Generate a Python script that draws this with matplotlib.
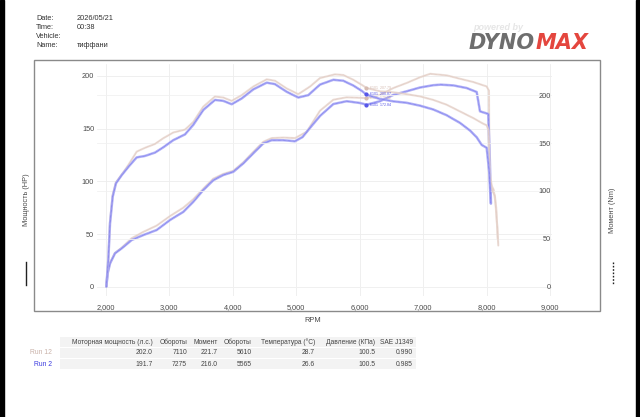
import numpy as np
import matplotlib
matplotlib.use("Agg")
import matplotlib.pyplot as plt
from matplotlib.lines import Line2D
from matplotlib.patches import Rectangle
from matplotlib.ticker import FuncFormatter
from matplotlib.transforms import Bbox, TransformedBbox

plt.rcParams["font.family"] = ["Liberation Sans", "DejaVu Sans"]

W, H = 640, 417
TAN, TAN_CORE = "#ead9d2", "#d6bcb2"
BLUE, BLUE_CORE = "#a3a3f5", "#5656e8"
TXT = "#4a4a4a"

# ---- curves -----------------------------------------------------------------
rpm_tq12 = [2010, 2041, 2068, 2110, 2162, 2252, 2356, 2488, 2619, 2776, 2907, 3065, 3249, 3380,
            3537, 3721, 3852, 3984, 4142, 4325, 4536, 4666, 4850, 5033, 5218, 5375, 5610, 5742,
            5900, 6032, 6110, 6320, 6530, 6740, 6950, 7160, 7370, 7580, 7790, 7950, 8000, 8030,
            8050, 8090, 8130, 8170, 8183]
tq12 = [0, 29, 68, 96, 109, 117, 127, 141, 145, 149, 155, 161, 164, 172, 188, 198.5, 197.5, 194,
        200, 209, 216.5, 215, 207, 201, 209, 217.8, 221.7, 221, 216, 210.8, 207.4, 204, 203, 201,
        198.7, 195, 190, 183, 176, 170, 168.5, 163, 120, 100, 95, 60, 43]

rpm_pw12 = [2010, 2031, 2068, 2146, 2252, 2409, 2592, 2803, 3013, 3222, 3380, 3537, 3694, 3852,
            4010, 4167, 4325, 4482, 4614, 4797, 4981, 5166, 5375, 5585, 5795, 6110, 6320, 6530,
            6740, 6950, 7110, 7372, 7580, 7790, 8000, 8036, 8045, 8110, 8150, 8175]
pw12 = [0, 13, 22.5, 32, 37, 46, 52, 58, 67, 75, 83, 93, 102.5, 107, 110, 118, 128, 137.5, 141,
        141.5, 141, 147, 167, 177.4, 179.7, 179, 182, 188.5, 193.3, 198.7, 202.0, 200.5, 197.3,
        194.2, 190, 186, 100, 92, 75, 45]

rpm_tq2 = [2010, 2041, 2068, 2110, 2162, 2252, 2356, 2488, 2619, 2776, 2907, 3065, 3249, 3380,
           3537, 3721, 3852, 3984, 4142, 4325, 4536, 4666, 4850, 5033, 5191, 5375, 5585, 5742,
           5900, 6032, 6110, 6320, 6530, 6740, 6950, 7160, 7370, 7580, 7738, 7843, 7922, 8000,
           8040, 8065]
tq2 = [0, 28, 66, 94, 108, 116.5, 125, 135, 136.5, 140, 145.5, 153, 159, 169, 184.5, 195, 194,
       190.5, 196.5, 206, 213, 211.5, 203.5, 197.5, 200, 211, 216, 215, 210, 204.5, 200.4, 196,
       193.5, 192, 189, 185, 179, 171, 163, 156, 148, 145, 120, 87]

rpm_pw2 = [2010, 2031, 2068, 2146, 2252, 2409, 2592, 2803, 3013, 3222, 3380, 3537, 3694, 3852,
           4010, 4167, 4325, 4482, 4614, 4797, 4981, 5100, 5250, 5375, 5585, 5795, 6005, 6110,
           6320, 6530, 6740, 6950, 7160, 7275, 7475, 7685, 7843, 7895, 8025, 8050, 8068]
pw2 = [0, 12.7, 22, 31.7, 36.4, 44.3, 49, 53.8, 63.3, 71, 80.6, 91.7, 101, 106, 109, 117, 126.6,
       136, 139, 139, 138, 142, 153, 162, 173.3, 176, 174.3, 172.7, 176, 182, 185.4, 189, 191.2,
       191.7, 191, 188.5, 184.7, 166.4, 163.9, 120, 79]

cursor_rpm = 6101

# ---- summary table ------------------------------------------------------------
col_heads = ["Моторная мощность (л.с.)", "Обороты", "Момент", "Обороты",
             "Температура (°C)", "Давление (КПа)", "SAE J1349"]
run_names = ["Run 12", "Run 2"]
run_rows = [["202.0", "7110", "221.7", "5610", "28.7", "100.5", "0.990"],
            ["191.7", "7275", "216.0", "5565", "26.6", "100.5", "0.985"]]

header = [("Date:", "2026/05/21"), ("Time:", "00:38"), ("Vehicle:", ""), ("Name:", "тиффани")]

# ------------------------------------------------------------------------------
fig = plt.figure(figsize=(W / 100, H / 100), dpi=100)
fx = lambda px: px / W
fy = lambda py: 1 - py / H

# black phone-screenshot edges and grey chart frame
fig.patches.append(Rectangle((0, 0), fx(4), 1, transform=fig.transFigure, color="black"))
fig.patches.append(Rectangle((fx(636), 0), fx(4), 1, transform=fig.transFigure, color="black"))
fig.patches.append(Rectangle((fx(34), fy(311)), fx(600 - 34), fy(60) - fy(311),
                             transform=fig.transFigure, fill=False, ec="#8a8a8a", lw=1.0))

ax = fig.add_axes([fx(97), fy(296), fx(552 - 97), fy(64) - fy(296)])
ax2 = ax.twinx()
for a in (ax, ax2):
    for s in a.spines.values():
        s.set_visible(False)
ax.set_xlim(1863, 9029)
ax.set_ylim(-8.8, 211.3)
ax2.set_ylim(-9.7, 232.5)
ax.set_xticks(np.arange(2000, 9001, 1000))
ax.set_yticks(np.arange(0, 201, 50))
ax2.set_yticks(np.arange(0, 201, 50))
ax.xaxis.set_major_formatter(FuncFormatter(lambda v, p: f"{v:,.0f}"))
ax.grid(True, color="#ededed", lw=0.6)
ax2.grid(True, axis="y", color="#f1f1f1", lw=0.6)
ax.set_axisbelow(True)
ax.tick_params(length=0, labelsize=5.3, labelcolor=TXT, pad=2)
ax.tick_params(axis="x", pad=6)
ax2.tick_params(length=0, labelsize=5.3, labelcolor=TXT, pad=-1)
for tl in ax2.get_yticklabels():
    tl.set_ha("right")

def draw(a, x, y, wide, core, lw):
    a.plot(x, y, color=wide, lw=lw, alpha=0.85, solid_capstyle="round")
    a.plot(x, y, color=core, lw=0.45, ls=(0, (1, 1)), alpha=0.9)

draw(ax, rpm_pw12, pw12, TAN, TAN_CORE, 1.5)
draw(ax2, rpm_tq12, tq12, TAN, TAN_CORE, 1.5)
draw(ax, rpm_pw2, pw2, BLUE, BLUE_CORE, 1.8)
draw(ax2, rpm_tq2, tq2, BLUE, BLUE_CORE, 1.8)

# cursor read-outs
for a, x, y, c in [(ax2, rpm_tq12, tq12, TAN_CORE), (ax2, rpm_tq2, tq2, BLUE_CORE),
                   (ax, rpm_pw12, pw12, TAN_CORE), (ax, rpm_pw2, pw2, BLUE_CORE)]:
    v = np.interp(cursor_rpm, x, y)
    a.plot([cursor_rpm], [v], "o", ms=2, color=c)
    a.text(cursor_rpm + 60, v, f"{cursor_rpm}  {v:.2f}", fontsize=2.6, color=c, va="center")

# clip the 9,000 label like in the reference
fig.canvas.draw()
clip = TransformedBbox(Bbox([[0, 0], [fx(560), 1]]), fig.transFigure)
for tl in ax.get_xticklabels():
    tl.set_clip_box(clip)
    tl.set_clip_on(True)

fig.text(fx(313), fy(320), "RPM", fontsize=5.3, color=TXT, ha="center", va="center")
fig.text(fx(26), fy(200), "Мощность (HP)", fontsize=5.3, color=TXT, rotation=90,
         ha="center", va="center")
fig.text(fx(612), fy(210), "Момент (Nm)", fontsize=5.3, color=TXT, rotation=90,
         ha="center", va="center")
fig.lines.append(Line2D([fx(26), fx(26)], [fy(262), fy(285)], transform=fig.transFigure,
                        color="#222222", lw=1.0))
fig.lines.append(Line2D([fx(613), fx(613)], [fy(262), fy(285)], transform=fig.transFigure,
                        color="#222222", lw=1.0, ls=(0, (1.2, 1.2))))

# header block
for i, (k, v) in enumerate(header):
    fig.text(fx(36), fy(18 + 9.3 * i), k, fontsize=5.3, color="#333333", va="center")
    fig.text(fx(77), fy(18 + 9.3 * i), v, fontsize=5.3, color="#333333", va="center")

# logo
fig.text(fx(473), fy(27), "powered by", fontsize=6.5, color="#e6e6e6", style="italic",
         weight="bold", va="center")
t1 = fig.text(fx(469), fy(43), "DYNO", fontsize=15, color="#6e6e6e", style="italic",
              weight="bold", va="center", family="DejaVu Sans")
fig.canvas.draw()
bb = t1.get_window_extent()
fig.text(bb.x1 / W, fy(43), "MAX", fontsize=15, color="#e4463e", style="italic",
         weight="bold", va="center", family="DejaVu Sans")

# table
col_right = [153, 187, 218, 252, 315, 375, 413]
row_y = [342, 353, 364]
for ry in row_y:
    fig.patches.append(Rectangle((fx(60), fy(ry + 5)), fx(416 - 60), fy(ry - 5) - fy(ry + 5),
                                 transform=fig.transFigure, color="#f3f3f3", lw=0))
for h, cr in zip(col_heads, col_right):
    fig.text(fx(cr), fy(row_y[0]), h, fontsize=4.8, color="#444444", ha="right", va="center")
for name, vals, ry, c in zip(run_names, run_rows, row_y[1:], ["#c9b1a8", "#3b3be0"]):
    fig.text(fx(52), fy(ry), name, fontsize=4.9, color=c, ha="right", va="center")
    for v, cr in zip(vals, col_right):
        fig.text(fx(cr), fy(ry), v, fontsize=4.9, color="#444444", ha="right", va="center")

fig.savefig("out.png", dpi=100, facecolor="white")
